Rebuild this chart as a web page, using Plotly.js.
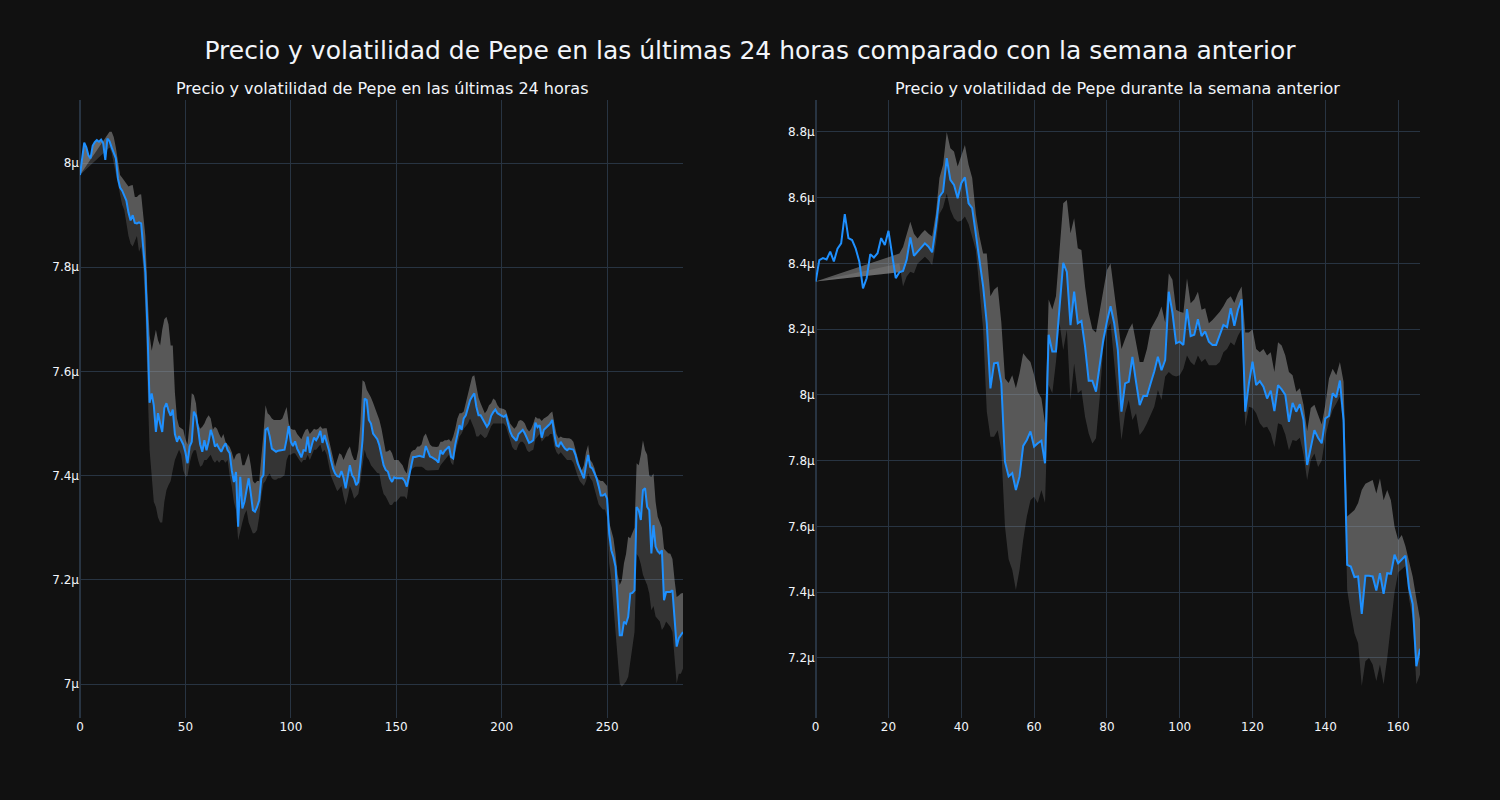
<!DOCTYPE html>
<html>
<head>
<meta charset="utf-8">
<script src="https://cdn.plot.ly/plotly-3.0.1.min.js"></script>
<style>html,body{margin:0;padding:0;background:#111111;}</style>
</head>
<body>
<div id="chart" style="width:1500px;height:800px;"></div>
<script>
// ---------- Data (prices in µ units) ----------
const mainTitle = "Precio y volatilidad de Pepe en las últimas 24 horas comparado con la semana anterior";
const dayTitle = "Precio y volatilidad de Pepe en las últimas 24 horas";
const weekTitle = "Precio y volatilidad de Pepe durante la semana anterior";

// Last 24 hours (index 0..286)
const dayPrice = [
7.977,8.01,8.039,8.03,8.015,8.009,8.033,8.04,8.044,8.041,
8.045,8.038,8.006,8.047,8.042,8.03,8.02,8.009,7.97,7.953,
7.947,7.938,7.928,7.905,7.89,7.9,7.885,7.884,7.886,7.884,
7.84,7.79,7.68,7.54,7.558,7.535,7.484,7.52,7.5,7.484,
7.53,7.539,7.525,7.515,7.527,7.48,7.465,7.476,7.468,7.46,
7.445,7.424,7.456,7.465,7.523,7.515,7.49,7.46,7.446,7.468,
7.449,7.465,7.488,7.475,7.456,7.46,7.452,7.446,7.455,7.462,
7.449,7.443,7.41,7.388,7.407,7.302,7.398,7.337,7.35,7.37,
7.395,7.366,7.334,7.331,7.34,7.353,7.395,7.401,7.488,7.491,
7.475,7.452,7.449,7.446,7.448,7.449,7.45,7.45,7.47,7.495,
7.465,7.457,7.466,7.452,7.444,7.435,7.449,7.448,7.475,7.444,
7.46,7.473,7.468,7.475,7.486,7.463,7.478,7.465,7.45,7.43,
7.414,7.404,7.399,7.398,7.409,7.396,7.376,7.398,7.42,7.401,
7.395,7.382,7.388,7.424,7.468,7.548,7.545,7.507,7.5,7.481,
7.476,7.47,7.458,7.44,7.42,7.411,7.408,7.395,7.388,7.397,
7.395,7.395,7.395,7.395,7.39,7.379,7.398,7.418,7.436,7.436,
7.437,7.438,7.437,7.436,7.457,7.446,7.437,7.435,7.433,7.43,
7.425,7.449,7.441,7.448,7.452,7.456,7.436,7.433,7.46,7.48,
7.497,7.488,7.51,7.516,7.53,7.545,7.552,7.558,7.532,7.516,
7.516,7.508,7.5,7.494,7.5,7.515,7.522,7.527,7.52,7.517,
7.515,7.513,7.516,7.5,7.485,7.476,7.472,7.467,7.48,7.485,
7.488,7.481,7.47,7.463,7.465,7.468,7.502,7.493,7.497,7.473,
7.488,7.493,7.496,7.5,7.507,7.478,7.458,7.456,7.465,7.458,
7.452,7.449,7.452,7.451,7.45,7.44,7.424,7.414,7.404,7.395,
7.42,7.44,7.417,7.414,7.405,7.395,7.38,7.362,7.362,7.365,
7.356,7.289,7.257,7.244,7.225,7.155,7.094,7.094,7.12,7.116,
7.129,7.174,7.175,7.18,7.34,7.334,7.315,7.372,7.376,7.34,
7.334,7.251,7.305,7.264,7.255,7.251,7.257,7.161,7.177,7.177,
7.177,7.18,7.129,7.072,7.088,7.095,7.1
];
// volatility band starts after the rolling window
const dayBandStart = 14;
const dayUpper = [7.977,
8.06,8.06,8.05,8.03,8.00,7.977,
7.972,7.967,7.96,7.955,7.957,7.958,7.935,7.935,7.939,7.94,
7.9,7.86,7.75,7.67,7.64,7.66,7.68,7.66,7.65,7.68,
7.70,7.705,7.69,7.65,7.65,7.56,7.51,7.494,7.49,7.488,
7.47,7.46,7.50,7.558,7.555,7.539,7.50,7.49,7.494,7.50,
7.51,7.516,7.51,7.488,7.494,7.49,7.48,7.472,7.48,7.465,
7.46,7.455,7.445,7.43,7.44,7.443,7.443,7.42,7.42,7.43,
7.443,7.42,7.39,7.385,7.39,7.39,7.43,7.48,7.535,7.52,
7.516,7.51,7.507,7.507,7.507,7.507,7.51,7.52,7.532,7.50,
7.49,7.488,7.488,7.48,7.475,7.47,7.48,7.488,7.49,7.48,
7.485,7.49,7.488,7.49,7.495,7.49,7.491,7.491,7.47,7.45,
7.43,7.417,7.43,7.443,7.44,7.43,7.44,7.45,7.456,7.44,
7.43,7.43,7.45,7.50,7.583,7.58,7.565,7.558,7.55,7.54,
7.53,7.52,7.507,7.49,7.47,7.446,7.447,7.45,7.443,7.43,
7.43,7.43,7.425,7.42,7.41,7.404,7.43,7.445,7.449,7.45,
7.456,7.456,7.46,7.475,7.481,7.47,7.46,7.456,7.455,7.455,
7.456,7.465,7.465,7.468,7.468,7.47,7.465,7.475,7.49,7.51,
7.52,7.52,7.523,7.54,7.558,7.577,7.59,7.593,7.571,7.55,
7.539,7.53,7.52,7.525,7.535,7.539,7.548,7.545,7.535,7.53,
7.529,7.528,7.525,7.51,7.5,7.495,7.49,7.495,7.505,7.507,
7.505,7.5,7.49,7.485,7.49,7.5,7.513,7.51,7.51,7.505,
7.51,7.512,7.515,7.52,7.523,7.5,7.48,7.472,7.475,7.473,
7.472,7.472,7.472,7.47,7.465,7.45,7.43,7.42,7.41,7.42,
7.445,7.459,7.43,7.425,7.415,7.40,7.392,7.39,7.39,7.385,
7.38,7.31,7.296,7.28,7.25,7.21,7.19,7.20,7.232,7.25,
7.283,7.28,7.29,7.30,7.424,7.42,7.44,7.468,7.449,7.44,
7.40,7.398,7.404,7.35,7.321,7.31,7.30,7.26,7.255,7.251,
7.25,7.24,7.20,7.167,7.17,7.174,7.175
];
const dayLower = [7.977,
8.03,8.02,8.00,7.98,7.955,7.935,
7.92,7.91,7.88,7.86,7.845,7.84,7.85,7.86,7.83,7.84,
7.80,7.72,7.58,7.45,7.40,7.35,7.34,7.32,7.31,7.31,
7.35,7.372,7.382,7.39,7.411,7.43,7.44,7.45,7.44,7.41,
7.398,7.40,7.424,7.44,7.449,7.449,7.43,7.417,7.42,7.43,
7.43,7.435,7.44,7.43,7.425,7.43,7.425,7.43,7.43,7.425,
7.43,7.40,7.379,7.35,7.334,7.276,7.296,7.31,7.325,7.334,
7.31,7.30,7.289,7.29,7.296,7.321,7.36,7.385,7.39,7.40,
7.404,7.395,7.392,7.392,7.395,7.395,7.398,7.401,7.43,7.44,
7.44,7.443,7.443,7.435,7.43,7.425,7.43,7.43,7.44,7.43,
7.44,7.45,7.45,7.455,7.46,7.445,7.45,7.44,7.42,7.40,
7.39,7.38,7.37,7.375,7.38,7.36,7.344,7.36,7.38,7.37,
7.356,7.36,7.365,7.39,7.42,7.45,7.436,7.43,7.42,7.415,
7.41,7.405,7.404,7.38,7.365,7.36,7.352,7.344,7.344,7.35,
7.35,7.355,7.36,7.36,7.36,7.355,7.38,7.411,7.415,7.417,
7.417,7.417,7.417,7.415,7.411,7.41,7.41,7.41,7.41,7.41,
7.411,7.42,7.425,7.43,7.435,7.44,7.425,7.42,7.445,7.46,
7.475,7.481,7.49,7.495,7.5,7.51,7.5,7.49,7.475,7.475,
7.48,7.475,7.472,7.475,7.485,7.495,7.5,7.5,7.5,7.5,
7.5,7.5,7.495,7.48,7.465,7.455,7.45,7.449,7.46,7.465,
7.465,7.46,7.449,7.445,7.448,7.45,7.47,7.475,7.48,7.465,
7.47,7.475,7.475,7.48,7.48,7.456,7.445,7.44,7.445,7.44,
7.436,7.43,7.43,7.43,7.425,7.41,7.4,7.39,7.385,7.38,
7.39,7.405,7.395,7.39,7.375,7.36,7.345,7.34,7.335,7.335,
7.32,7.232,7.20,7.15,7.10,7.065,7.001,6.995,7.0,7.005,
7.014,7.04,7.072,7.10,7.25,7.244,7.23,7.21,7.20,7.19,
7.174,7.142,7.15,7.13,7.125,7.12,7.104,7.11,7.12,7.115,
7.11,7.10,7.05,7.001,7.02,7.02,7.03
];

// Previous week (index 0..166)
const weekPrice = [
8.345,8.41,8.416,8.412,8.436,8.406,8.445,8.461,8.55,8.477,
8.471,8.445,8.405,8.324,8.355,8.428,8.418,8.431,8.477,8.456,
8.499,8.421,8.355,8.373,8.377,8.411,8.479,8.423,8.436,8.448,
8.461,8.451,8.434,8.51,8.603,8.618,8.72,8.654,8.639,8.598,
8.644,8.662,8.583,8.568,8.492,8.411,8.33,8.218,8.02,8.096,
8.098,8.035,7.797,7.752,7.762,7.711,7.752,7.845,7.863,7.889,
7.843,7.853,7.861,7.792,8.183,8.132,8.132,8.268,8.402,8.374,
8.212,8.314,8.218,8.225,8.147,8.043,8.043,8.01,8.096,8.167,
8.223,8.27,8.218,8.137,7.949,8.035,8.04,8.116,8.04,7.969,
7.997,7.997,8.035,8.071,8.116,8.075,8.106,8.314,8.25,8.157,
8.162,8.152,8.261,8.179,8.183,8.23,8.179,8.193,8.162,8.152,
8.152,8.183,8.213,8.206,8.264,8.21,8.259,8.291,7.949,8.035,
8.101,8.03,8.042,8.025,7.989,8.013,7.951,8.03,8.017,8.0,
7.918,7.976,7.949,7.972,7.924,7.787,7.843,7.893,7.87,7.853,
7.929,7.936,8.005,7.993,8.044,7.924,7.483,7.478,7.446,7.448,
7.334,7.45,7.45,7.448,7.405,7.458,7.395,7.458,7.456,7.514,
7.488,7.501,7.511,7.412,7.364,7.175,7.228
];
const weekBandStart = 23;
const weekUpper = [8.345,
8.43,8.45,8.49,8.527,8.49,8.476,8.49,
8.502,8.49,8.482,8.55,8.66,8.70,8.80,8.75,8.74,8.695,
8.725,8.76,8.70,8.66,8.55,8.482,8.43,8.43,8.30,8.32,
8.33,8.22,8.05,8.036,8.06,8.02,8.066,8.127,8.112,8.10,
8.061,8.01,7.99,7.914,8.29,8.26,8.30,8.45,8.583,8.593,
8.492,8.537,8.446,8.441,8.33,8.249,8.20,8.19,8.25,8.31,
8.38,8.40,8.31,8.238,8.14,8.17,8.198,8.218,8.16,8.10,
8.10,8.14,8.20,8.218,8.24,8.269,8.22,8.37,8.35,8.259,
8.253,8.25,8.355,8.279,8.29,8.314,8.259,8.264,8.218,8.228,
8.24,8.253,8.27,8.29,8.30,8.28,8.309,8.33,8.19,8.19,
8.2,8.14,8.13,8.14,8.12,8.13,8.07,8.16,8.15,8.12,
8.07,8.06,8.01,8.02,7.97,7.89,7.96,7.97,7.94,7.91,
7.97,8.05,8.08,8.06,8.10,8.04,7.63,7.64,7.65,7.671,
7.711,7.73,7.736,7.741,7.70,7.746,7.68,7.711,7.68,7.60,
7.559,7.574,7.54,7.488,7.447,7.38,7.318
];
const weekLower = [8.345,
8.40,8.33,8.36,8.375,8.37,8.40,8.41,
8.42,8.41,8.395,8.46,8.55,8.57,8.613,8.563,8.537,8.527,
8.53,8.543,8.52,8.48,8.44,8.32,8.20,7.95,7.873,7.873,
7.893,7.832,7.60,7.50,7.468,7.407,7.468,7.559,7.63,7.68,
7.69,7.671,7.711,7.671,8.03,8.005,8.10,8.218,8.137,8.198,
7.985,8.096,8.005,8.015,7.934,7.883,7.852,7.868,7.99,8.147,
8.198,8.218,8.10,7.985,7.863,7.944,7.985,7.924,7.944,7.878,
7.893,7.914,7.94,7.964,8.015,7.985,8.056,8.07,8.06,8.056,
8.06,8.08,8.12,8.10,8.09,8.12,8.10,8.11,8.09,8.09,
8.09,8.10,8.13,8.14,8.16,8.15,8.18,8.20,7.904,7.964,
7.96,7.944,7.914,7.90,7.903,7.883,7.842,7.914,7.909,7.88,
7.832,7.863,7.86,7.87,7.82,7.741,7.802,7.822,7.781,7.80,
7.873,7.92,7.954,7.974,7.995,7.90,7.407,7.336,7.275,7.245,
7.115,7.19,7.2,7.18,7.13,7.18,7.12,7.2,7.30,7.40,
7.46,7.47,7.48,7.38,7.32,7.12,7.15
];

// ---------- Build traces ----------
function indexRange(n){ const a=[]; for(let i=0;i<n;i++) a.push(i); return a; }
function bandIndex(start, n){ const a=[0]; for(let i=start;i<n;i++) a.push(i); return a; }

const LIGHT = 'rgba(160,160,160,0.5)';
const DARK  = 'rgba(160,160,160,0.25)';
const BLUE  = '#1E90FF';

function makeSet(price, bandStart, upper, lower, xa, ya, midFull){
  const x = indexRange(price.length);
  const bx = bandIndex(bandStart, price.length);
  const midX = midFull ? x : bx;
  const midY = midX.map(i => price[i]);
  const base = {mode:'lines', line:{width:0, color:'rgba(0,0,0,0)'}, hoverinfo:'skip', showlegend:false, xaxis:xa, yaxis:ya};
  return [
    Object.assign({}, base, {x:bx, y:upper}),
    Object.assign({}, base, {x:midX, y:midY, fill:'tonexty', fillcolor:LIGHT}),
    Object.assign({}, base, {x:bx, y:lower, fill:'tonexty', fillcolor:DARK}),
    {x:x, y:price, mode:'lines', line:{color:BLUE, width:2}, showlegend:false, xaxis:xa, yaxis:ya}
  ];
}

const traces = [].concat(
  makeSet(dayPrice, dayBandStart, dayUpper, dayLower, 'x', 'y', true),
  makeSet(weekPrice, weekBandStart, weekUpper, weekLower, 'x2', 'y2', false)
);

const GRID = '#283442';
const axisBase = {gridcolor:GRID, zerolinecolor:GRID, zerolinewidth:2, showline:false, ticks:'', tickfont:{size:12}};

const layout = {
  width:1500, height:800,
  paper_bgcolor:'rgb(17,17,17)', plot_bgcolor:'rgb(17,17,17)',
  font:{family:'DejaVu Sans, sans-serif', color:'#f2f5fa', size:12},
  title:{text:mainTitle, x:0.5, xanchor:'center', y:1-50/800, yanchor:'middle', font:{size:25, color:'#f2f5fa'}},
  margin:{l:80, r:80, t:100, b:82},
  showlegend:false,
  xaxis:Object.assign({}, axisBase, {domain:[0,0.45], range:[0,286], dtick:50, tick0:0, anchor:'y'}),
  yaxis:Object.assign({}, axisBase, {range:[6.935,8.121], dtick:0.2, tick0:7, ticksuffix:'µ', anchor:'x', zeroline:false}),
  xaxis2:Object.assign({}, axisBase, {domain:[0.549,1], range:[0,166], dtick:20, tick0:0, anchor:'y2'}),
  yaxis2:Object.assign({}, axisBase, {range:[7.0175,8.897], dtick:0.2, tick0:7.2, ticksuffix:'µ', anchor:'x2', zeroline:false}),
  annotations:[
    {text:dayTitle, xref:'paper', yref:'paper', x:0.225, y:(718-89)/618, xanchor:'center', yanchor:'middle', showarrow:false, font:{size:16, color:'#f2f5fa'}},
    {text:weekTitle, xref:'paper', yref:'paper', x:0.7745, y:(718-89)/618, xanchor:'center', yanchor:'middle', showarrow:false, font:{size:16, color:'#f2f5fa'}}
  ]
};

Plotly.newPlot('chart', traces, layout, {displayModeBar:false, responsive:false});
</script>
</body>
</html>
